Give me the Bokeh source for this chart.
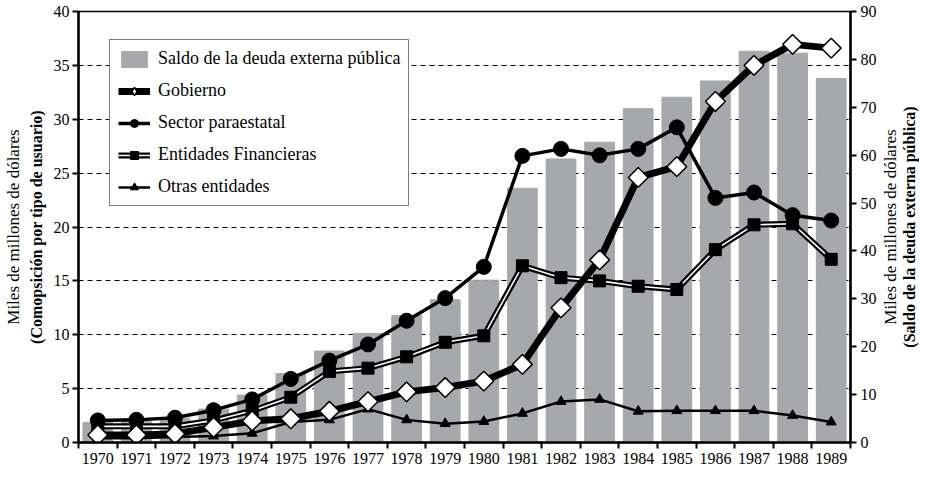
import math
from bokeh.plotting import figure
from bokeh.layouts import row
from bokeh.models import Range1d, LinearAxis, FixedTicker, Legend, LegendItem, ColumnDataSource
from bokeh.embed import file_html
from bokeh.resources import INLINE

years = list(range(1970, 1990))
saldo = [4.2, 4.5, 5.0, 7.0, 9.9, 14.4, 19.1, 22.8, 26.5, 29.8, 33.9, 53.1, 59.2, 62.7, 69.7, 72.1, 75.5, 81.7, 81.3, 76.0]
gobierno = [0.7, 0.7, 0.8, 1.4, 2.0, 2.2, 2.9, 3.8, 4.7, 5.1, 5.7, 7.25, 12.5, 16.95, 24.6, 25.6, 31.65, 35.0, 36.95, 36.6]
paraestatal = [2.05, 2.1, 2.3, 3.0, 4.0, 5.9, 7.6, 9.1, 11.3, 13.4, 16.3, 26.6, 27.25, 26.65, 27.25, 29.25, 22.7, 23.2, 21.1, 20.6]
financieras = [1.5, 1.5, 1.5, 2.05, 2.95, 4.2, 6.6, 6.9, 7.95, 9.3, 9.9, 16.4, 15.3, 15.0, 14.5, 14.2, 17.9, 20.2, 20.3, 17.0]
otras = [0.4, 0.4, 0.5, 0.6, 0.85, 1.9, 2.1, 3.1, 2.1, 1.75, 1.95, 2.7, 3.8, 4.0, 2.9, 2.95, 2.95, 2.95, 2.5, 1.9]

left_ticks = [0, 5, 10, 15, 20, 25, 30, 35, 40]
right_ticks = [0, 10, 20, 30, 40, 50, 60, 70, 80, 90]

FONT = "Liberation Serif"
TOP, BOTTOM = 11, 23

src = ColumnDataSource(dict(x=years, saldo=saldo, gob=gobierno, par=paraestatal,
                            fin=financieras, otr=otras))

p = figure(width=879, height=466, output_backend="svg", toolbar_location=None,
           x_range=Range1d(years[0] - 0.5, years[-1] + 0.5),
           y_range=Range1d(0, 40),
           min_border_left=77, min_border_right=27, min_border_top=TOP, min_border_bottom=BOTTOM)
p.extra_y_ranges = {"right": Range1d(0, 90)}
p.background_fill_color = "white"
p.border_fill_color = "white"
p.outline_line_color = "black"
p.outline_line_width = 1.5

# grid
p.xgrid.visible = False
p.ygrid.ticker = FixedTicker(ticks=left_ticks[1:-1])
p.ygrid.grid_line_color = "black"
p.ygrid.grid_line_dash = "5 4"
p.ygrid.grid_line_width = 1

# x axis
xa = p.xaxis[0]
xa.ticker = FixedTicker(ticks=years, minor_ticks=[y + 0.5 for y in [years[0] - 1] + years])
xa.major_tick_out = 0
xa.major_tick_in = 0
xa.minor_tick_out = 6
xa.minor_tick_in = 0
xa.minor_tick_line_width = 2
xa.minor_tick_line_color = "black"
xa.axis_line_width = 2.5
xa.axis_line_color = "black"
xa.major_label_text_font = FONT
xa.major_label_text_font_size = "16px"
xa.major_label_text_color = "black"
xa.major_label_standoff = 4

# left axis
ya = p.yaxis[0]
ya.ticker = FixedTicker(ticks=left_ticks)
ya.axis_line_width = 2.5
ya.major_tick_out = 6
ya.major_tick_in = 0
ya.major_tick_line_width = 2
ya.minor_tick_line_color = None
ya.major_label_text_font = FONT
ya.major_label_text_font_size = "16px"
ya.major_label_text_color = "black"
ya.major_label_standoff = 3
ya.axis_label = "(Comopsición por tipo de usuario)"
ya.axis_label_text_font = FONT
ya.axis_label_text_font_size = "16px"
ya.axis_label_text_font_style = "bold"
ya.axis_label_text_color = "black"
ya.axis_label_standoff = 6

ya2 = LinearAxis(y_range_name="right", ticker=FixedTicker(ticks=[]),
                 axis_line_color=None, major_tick_line_color=None, minor_tick_line_color=None,
                 major_tick_out=0, major_label_standoff=0, major_label_text_font_size="0px",
                 axis_label="Miles de millones de dólares",
                 axis_label_text_font=FONT, axis_label_text_font_size="17px",
                 axis_label_text_font_style="normal", axis_label_text_color="black",
                 axis_label_standoff=2)
p.add_layout(ya2, "left")

# right axis
ra = LinearAxis(y_range_name="right", ticker=FixedTicker(ticks=right_ticks),
                axis_line_width=2.5, major_tick_out=6, major_tick_in=0, major_tick_line_width=2,
                minor_tick_line_color=None,
                major_label_text_font=FONT, major_label_text_font_size="16px",
                major_label_text_color="black", major_label_standoff=4)
p.add_layout(ra, "right")

# bars
bars = p.vbar(x="x", top="saldo", width=0.77, source=src, y_range_name="right",
              fill_color="#a7a8ab", line_color="#a7a8ab")

# Otras entidades
l_otr = p.line("x", "otr", source=src, line_color="black", line_width=2.5)
s_otr = p.scatter("x", "otr", source=src, marker="triangle", size=10,
                  fill_color="black", line_color="black")

# Entidades Financieras (double line)
l_fin1 = p.line("x", "fin", source=src, line_color="black", line_width=6)
l_fin2 = p.line("x", "fin", source=src, line_color="white", line_width=1.6)
s_fin = p.scatter("x", "fin", source=src, marker="square", size=12,
                  fill_color="black", line_color="black")

# Sector paraestatal
l_par = p.line("x", "par", source=src, line_color="black", line_width=3.5)
s_par = p.scatter("x", "par", source=src, marker="circle", size=15,
                  fill_color="black", line_color="black")

# Gobierno
l_gob = p.line("x", "gob", source=src, line_color="black", line_width=7)
s_gob = p.scatter("x", "gob", source=src, marker="square", angle=math.pi / 4, size=14,
                  fill_color="white", line_color="black", line_width=1.5)
# legend-only swatch for the diamond marker (a NaN point is never drawn in the plot)
s_gob_key = p.scatter(x=[float("nan")], y=[float("nan")], marker="diamond", size=18,
                      fill_color="white", line_color="black", line_width=1.5)

legend = Legend(items=[
    LegendItem(label="Saldo de la deuda externa pública", renderers=[bars]),
    LegendItem(label="Gobierno", renderers=[l_gob, s_gob_key]),
    LegendItem(label="Sector paraestatal", renderers=[l_par, s_par]),
    LegendItem(label="Entidades Financieras", renderers=[l_fin1, l_fin2, s_fin]),
    LegendItem(label="Otras entidades", renderers=[l_otr, s_otr]),
], location=(31, 236))
legend.padding = 8
legend.spacing = 11
legend.glyph_width = 32
legend.glyph_height = 20
legend.label_height = 20
legend.label_standoff = 8
legend.label_text_font = FONT
legend.label_text_font_size = "18px"
legend.label_text_color = "black"
legend.border_line_color = "black"
legend.border_line_width = 1
legend.background_fill_color = "white"
legend.background_fill_alpha = 1
p.add_layout(legend)

# right-hand titles, reading bottom-to-top like the left ones
p2 = figure(width=38, height=466, output_backend="svg", toolbar_location=None,
            x_range=Range1d(0, 1), y_range=Range1d(0, 90),
            min_border_left=0, min_border_right=0, min_border_top=TOP, min_border_bottom=BOTTOM)
p2.xaxis.visible = False
p2.grid.visible = False
p2.outline_line_color = None
p2.background_fill_color = "white"
p2.border_fill_color = "white"
t1 = p2.yaxis[0]
t1.ticker = FixedTicker(ticks=[])
t1.axis_line_color = None
t1.major_tick_line_color = None
t1.minor_tick_line_color = None
t1.major_tick_out = 0
t1.major_label_standoff = 0
t1.major_label_text_font_size = "0px"
t1.axis_label = "(Saldo de la deuda externa pública)"
t1.axis_label_text_font = FONT
t1.axis_label_text_font_size = "16px"
t1.axis_label_text_font_style = "bold"
t1.axis_label_text_color = "black"
t1.axis_label_standoff = 0
t2 = LinearAxis(ticker=FixedTicker(ticks=[]),
                axis_line_color=None, major_tick_line_color=None, minor_tick_line_color=None,
                major_tick_out=0, major_label_standoff=0, major_label_text_font_size="0px",
                axis_label="Miles de millones de dólares",
                axis_label_text_font=FONT, axis_label_text_font_size="17px",
                axis_label_text_font_style="normal", axis_label_text_color="black",
                axis_label_standoff=-2)
p2.add_layout(t2, "left")

layout = row(p, p2)
open("out.html", "w").write(file_html(layout, INLINE))
